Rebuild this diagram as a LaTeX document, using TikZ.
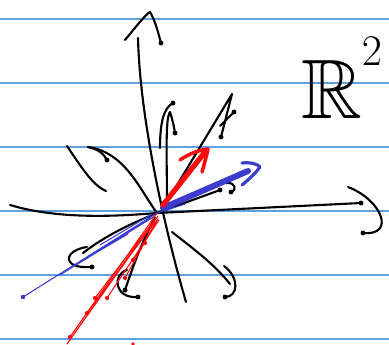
\documentclass[tikz,border=0pt]{standalone}
\usepackage{amssymb}
\definecolor{ruleblue}{RGB}{95,160,225}
\definecolor{inkblue}{RGB}{60,60,205}
\definecolor{inkred}{RGB}{250,10,10}
\begin{document}
\begin{tikzpicture}[x=0.02cm, y=-0.02cm, line cap=round, line join=round,
    ruled/.style={ruleblue, line width=0.8pt},
    pen/.style={black, line width=1.2pt},
    bluepen/.style={inkblue, line width=0.6pt},
    redpen/.style={inkred, line width=0.6pt},
    bluethick/.style={inkblue, line width=3.4pt},
    redthick/.style={inkred, line width=3pt}]
    \useasboundingbox (0,0) rectangle (389,345);

    % paper lines
    \foreach \yy in {19,83,147,211,275,339}
        \draw[ruled] (0,\yy) -- (389,\yy);

    \coordinate (O) at (157,213);

    % vertical axis
    \draw[pen] (186,302) .. controls (165,230) and (140,120) .. (138,38);
    \draw[pen] (125,40) .. controls (135,28) and (145,15) .. (150,12) .. controls (155,20) and (158,32) .. (161,43);
    \fill (161,43) circle (1.4pt);

    % horizontal axis
    \draw[pen] (10,205) .. controls (60,220) and (120,216) .. (O) -- (361,203);
    \fill (361,203) circle (1.4pt);
    \draw[pen] (348,187) .. controls (382,200) and (396,236) .. (363,233);
    \fill (363,233) circle (1.4pt);

    % black trajectories
    \draw[pen] (O) .. controls (140,190) and (125,152) .. (88,147);
    \draw[pen] (88,147) .. controls (98,149) and (104,154) .. (107,160);
    \fill (107,160) circle (1.4pt);
    \draw[pen] (67,146) .. controls (80,165) and (92,185) .. (106,191);

    \draw[pen] (160,148) .. controls (160,125) and (163,108) .. (173,103);
    \fill (173,103) circle (1.4pt);
    \draw[pen] (167,205) .. controls (167,160) and (165,118) .. (170,112) .. controls (172,118) and (174,126) .. (175,133);
    \fill (175,133) circle (1.4pt);

    \draw[pen] (165,205) -- (232,94) -- (221,137);
    \fill (221,137) circle (1.4pt);
    \draw[pen] (220,126) -- (234,112);
    \fill (234,112) circle (1.4pt);

    \draw[pen] (O) -- (220,190);
    \fill (220,190) circle (1.4pt);
    \draw[pen] (226,183) .. controls (236,182) and (237,190) .. (231,192);
    \fill (231,192) circle (1.4pt);

    \draw[pen] (172,232) .. controls (195,250) and (215,265) .. (230,284);
    \draw[pen] (224,266) .. controls (240,278) and (238,297) .. (225,297);
    \fill (225,297) circle (1.4pt);

    \draw[pen] (155,218) .. controls (140,245) and (132,270) .. (125,290);
    \fill (125,290) circle (1.4pt);
    \draw[pen] (127,270) .. controls (112,274) and (114,299) .. (138,297);
    \fill (138,297) circle (1.4pt);

    \draw[pen] (O) .. controls (120,228) and (100,240) .. (83,253);
    \draw[pen] (87,247) .. controls (72,249) and (64,258) .. (72,264) .. controls (78,268) and (86,267) .. (92,267);
    \fill (92,267) circle (1.4pt);

    % blue strokes
    \draw[bluepen] (O) -- (23,297);
    \fill[inkblue] (23,297) circle (1.3pt);
    \draw[bluepen] (155,216) -- (60,275);
    \draw[bluepen] (150,218) -- (80,262) -- (128,234);
    \draw[bluepen] (152,214) -- (100,245);
    \draw[bluepen] (O) -- (185,204);
    \draw[bluethick] (163,208) -- (248,171);
    \draw[inkblue, line width=1.8pt] (242,163) .. controls (250,162) and (258,164) .. (260,167) .. controls (255,174) and (248,180) .. (242,185);

    % red strokes
    \draw[redpen] (O) -- (70,337);
    \draw[redpen] (158,216) -- (67,344) -- (140,240);
    \draw[redpen] (156,218) -- (95,298);
    \fill[inkred] (95,298) circle (1.2pt);
    \draw[redpen] (159,220) -- (107,298);
    \fill[inkred] (107,298) circle (1.2pt);
    \draw[redpen] (155,222) -- (87,313);
    \fill[inkred] (87,313) circle (1.2pt);
    \draw[redpen] (157,220) -- (125,278);
    \fill[inkred] (125,278) circle (1.2pt);
    \draw[redpen] (158,219) -- (133,260);
    \fill[inkred] (133,260) circle (1.2pt);
    \fill[inkred] (145,243) circle (1.2pt);
    \fill[inkred] (70,337) circle (1.2pt);
    \fill[inkred] (133,344) circle (1pt);
    \draw[redthick] (163,205) -- (205,152);
    \draw[inkred, line width=2pt] (180,160) .. controls (190,153) and (200,150) .. (208,149) .. controls (206,158) and (204,165) .. (202,172);

    % label
    \node[inner sep=0pt] (rtwo) at (342,78) {\fontsize{48}{48}\selectfont $\mathbb{R}^{\raisebox{0.45em}{$\scriptstyle 2$}}$};
\end{tikzpicture}
\end{document}
